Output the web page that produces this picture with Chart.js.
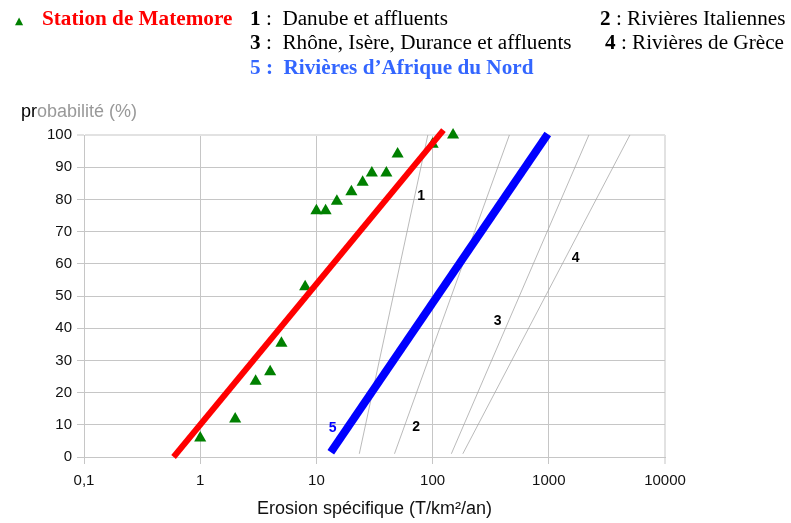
<!DOCTYPE html>
<html lang="fr">
<head>
<meta charset="utf-8">
<title>Erosion spécifique</title>
<script src="https://cdn.jsdelivr.net/npm/chart.js@4.4.1/dist/chart.umd.min.js"></script>
<style>
  html, body { margin: 0; padding: 0; background: #fff; }
  #wrap { position: relative; width: 791px; height: 523px; overflow: hidden; }
  #chart { position: absolute; left: 0; top: 0; }
  .head {
    position: absolute;
    font-family: "Liberation Serif", "Times New Roman", serif;
    font-size: 20px;
    line-height: 24px;
    white-space: pre;
    color: #000;
    transform: scaleX(1.06);
    transform-origin: left center;
  }
  #marker { left: 15px; top: 9px; font-size: 10px; color: #008000; font-family: "DejaVu Sans", sans-serif; }
  #station { left: 42px; top: 6px; color: #ff0000; font-weight: bold; }
  #leg1 { left: 250px; top: 6px; }
  #leg2 { left: 600px; top: 6px; }
  #leg3 { left: 250px; top: 30px; }
  #leg4 { left: 605px; top: 30px; }
  #leg5 { left: 250px; top: 55px; color: #3366ff; font-weight: bold; }
  #ytitle {
    position: absolute; left: 21px; top: 101px;
    font-family: "Liberation Sans", Arial, sans-serif; font-size: 18px; color: #999;
  }
  #ytitle b { font-weight: normal; color: #000; }
</style>
</head>
<body>
<div id="wrap">
  <canvas id="chart" width="791" height="523"></canvas>
  <span class="head" id="marker">▲</span>
  <span class="head" id="station"></span>
  <span class="head" id="leg1"></span>
  <span class="head" id="leg2"></span>
  <span class="head" id="leg3"></span>
  <span class="head" id="leg4"></span>
  <span class="head" id="leg5"></span>
  <div id="ytitle"><b>pr</b>obabilité (%)</div>
</div>
<script>
// Station de Matemore measurements (erosion T/km²/an, probability %)
const stationName = "Station de Matemore";
const stationX = [1, 2, 3, 4, 5, 8, 10, 12, 15, 20, 25, 30, 40, 50, 100, 150];
const stationY = [5.9, 11.8, 23.5, 26.5, 35.3, 52.9, 76.5, 76.5, 79.4, 82.4, 85.3, 88.2, 88.2, 94.1, 97.1, 100];

// Fitted line for the station (red)
const stationFitX = [0.59, 124];
const stationFitY = [0, 101.5];

// Reference curves 1-4 (thin grey lines) and 5 (blue)
const curveKeys = ["1", "2", "3", "4", "5"];
const curveNames = [
  "Danube et affluents",
  "Rivières Italiennes",
  "Rhône, Isère, Durance et affluents",
  "Rivières de Grèce",
  "Rivières d’Afrique du Nord",
];
const curve1X = [23.4, 91];
const curve1Y = [1, 100];
const curve2X = [47, 458];
const curve2Y = [1, 100];
const curve3X = [145, 2213];
const curve3Y = [1, 100];
const curve4X = [182, 4990];
const curve4Y = [1, 100];
const curve5X = [13.3, 980];
const curve5Y = [1.5, 100.3];

// Where the curve numbers are written on the chart
const labelX = [79.5, 72, 363, 1700, 13.8];
const labelY = [81, 9.4, 42.3, 61.7, 9.1];

// Axes
const xTickValues = [0.1, 1, 10, 100, 1000, 10000];
const xTickLabels = ["0,1", "1", "10", "100", "1000", "10000"];
const xTitle = "Erosion spécifique (T/km²/an)";

// Header legend
document.getElementById("station").textContent = stationName;
[0, 1, 2, 3].forEach((i) => {
  const sep = i === 0 || i === 2 ? " :  " : " : ";
  document.getElementById("leg" + (i + 1)).innerHTML =
    "<b>" + curveKeys[i] + "</b>" + sep + curveNames[i];
});
document.getElementById("leg5").textContent = curveKeys[4] + " :  " + curveNames[4];

function toPoints(xs, ys) {
  return xs.map((x, i) => ({ x: x, y: ys[i] }));
}

function thinCurve(xs, ys, name) {
  return {
    label: name,
    data: toPoints(xs, ys),
    showLine: true,
    borderColor: "#a8a8a8",
    borderWidth: 0.8,
    pointRadius: 0,
  };
}

const tickFont = { family: "'Liberation Sans', Arial, sans-serif", size: 15 };
const gridColor = "#c6c6c6";
const edgeColor = "#e2e2e2";

// Draw the curve numbers next to their lines
const curveLabels = {
  id: "curveLabels",
  afterDatasetsDraw(chart) {
    const { ctx, scales } = chart;
    ctx.save();
    ctx.font = "bold 14px 'Liberation Sans', Arial, sans-serif";
    ctx.textAlign = "center";
    ctx.textBaseline = "middle";
    curveKeys.forEach((t, i) => {
      ctx.fillStyle = i === 4 ? "#0000ff" : "#000";
      ctx.fillText(t, scales.x.getPixelForValue(labelX[i]), scales.y.getPixelForValue(labelY[i]));
    });
    ctx.restore();
  },
};

new Chart(document.getElementById("chart"), {
  type: "scatter",
  data: {
    datasets: [
      {
        label: stationName + " (ajustement)",
        data: toPoints(stationFitX, stationFitY),
        showLine: true,
        borderColor: "#ff0000",
        borderWidth: 6,
        pointRadius: 0,
        clip: false,
      },
      {
        label: curveNames[4],
        data: toPoints(curve5X, curve5Y),
        showLine: true,
        borderColor: "#0000ff",
        borderWidth: 8,
        pointRadius: 0,
        clip: false,
      },
      {
        label: stationName,
        data: toPoints(stationX, stationY),
        pointStyle: "triangle",
        pointRadius: 7,
        backgroundColor: "#008000",
        borderColor: "#008000",
        borderWidth: 0,
        clip: false,
      },
      thinCurve(curve1X, curve1Y, curveNames[0]),
      thinCurve(curve2X, curve2Y, curveNames[1]),
      thinCurve(curve3X, curve3Y, curveNames[2]),
      thinCurve(curve4X, curve4Y, curveNames[3]),
    ],
  },
  options: {
    responsive: false,
    animation: false,
    devicePixelRatio: 1,
    layout: { padding: { top: 135, right: 126, left: 0, bottom: 0 } },
    plugins: {
      legend: { display: false },
      tooltip: { enabled: false },
    },
    scales: {
      x: {
        type: "logarithmic",
        min: 0.1,
        max: 10000,
        afterBuildTicks: (scale) => {
          scale.ticks = xTickValues.map((v) => ({ value: v }));
        },
        afterFit: (scale) => {
          scale.height = 66;
        },
        ticks: {
          callback: (value, index) => xTickLabels[index],
          font: tickFont,
          color: "#111",
          padding: 8,
          autoSkip: false,
          maxRotation: 0,
        },
        grid: {
          color: (c) => (c.tick && c.tick.value === 10000 ? edgeColor : gridColor),
          lineWidth: (c) => (c.tick && c.tick.value === 10000 ? 2 : 1),
          tickLength: 7,
        },
        border: { color: gridColor },
        title: {
          display: true,
          text: xTitle,
          font: { family: "'Liberation Sans', Arial, sans-serif", size: 18 },
          color: "#111",
          padding: { top: 2, bottom: 3 },
        },
      },
      y: {
        min: 0,
        max: 100,
        afterFit: (scale) => {
          scale.width = 84;
        },
        ticks: {
          stepSize: 10,
          font: tickFont,
          color: "#111",
          padding: 5,
        },
        grid: {
          color: (c) => (c.tick && c.tick.value === 100 ? edgeColor : gridColor),
          lineWidth: (c) => (c.tick && c.tick.value === 100 ? 2 : 1),
          tickLength: 7,
        },
        border: { color: gridColor },
      },
    },
  },
  plugins: [curveLabels],
});
</script>
</body>
</html>
